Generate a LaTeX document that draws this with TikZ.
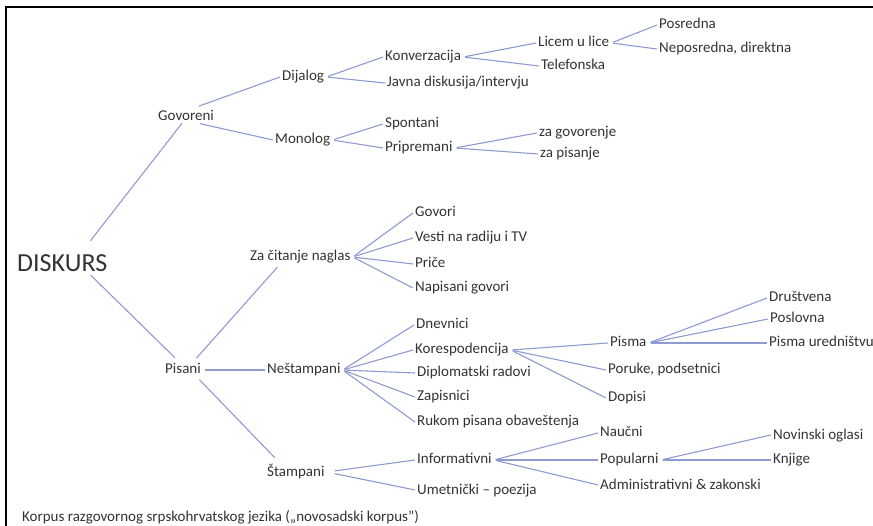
\documentclass[tikz,border=0pt]{standalone}
\usepackage{fontspec}
\setmainfont{Carlito}
\definecolor{txt}{HTML}{333333}
\definecolor{ln}{HTML}{8E9AD0}
\begin{document}
\begin{tikzpicture}[x=1pt,y=-1pt,
  lab/.style={anchor=west, inner xsep=2pt, inner ysep=0pt, text height=11pt, text depth=3pt, font=\fontsize{15}{18}\selectfont, text=txt},
  big/.style={anchor=west, inner xsep=2pt, inner ysep=0pt, text height=17pt, text depth=0pt, font=\fontsize{26}{30}\selectfont, text=txt},
  conn/.style={draw=ln, line width=1.1pt, shorten <=2pt},
]
\useasboundingbox (0,0) rectangle (873,526);
\draw[line width=2pt] (6,526) -- (6,7) -- (873,7);

% nodes
\node[big] (disk) at (15,263) {DISKURS};
\node[lab] (gov) at (156,117) {Govoreni};
\node[lab] (pis) at (163,370) {Pisani};
\node[lab] (dij) at (280,77) {Dijalog};
\node[lab] (mon) at (273,140) {Monolog};
\node[lab] (konv) at (383,57) {Konverzacija};
\node[lab] (javna) at (385,83) {Javna diskusija/intervju};
\node[lab] (spon) at (383,124) {Spontani};
\node[lab] (prip) at (383,148) {Pripremani};
\node[lab] (licem) at (536,43) {Licem u lice};
\node[lab] (tel) at (539,66) {Telefonska};
\node[lab] (posr) at (657,25) {Posredna};
\node[lab] (nepo) at (657,49) {Neposredna, direktna};
\node[lab] (zagov) at (537,133) {za govorenje};
\node[lab] (zapis) at (538,154) {za pisanje};
\node[lab] (zacit) at (248,257) {Za čitanje naglas};
\node[lab] (nest) at (265,370) {Neštampani};
\node[lab] (stam) at (265,472) {Štampani};
\node[lab] (govori) at (413,213) {Govori};
\node[lab] (vesti) at (413,238) {Vesti na radiju i TV};
\node[lab] (price) at (413,264) {Priče};
\node[lab] (napis) at (413,288) {Napisani govori};
\node[lab] (dnev) at (414,325) {Dnevnici};
\node[lab] (kores) at (413,350) {Korespodencija};
\node[lab] (diplo) at (415,373) {Diplomatski radovi};
\node[lab] (zapisn) at (415,397) {Zapisnici};
\node[lab] (rukom) at (415,422) {Rukom pisana obaveštenja};
\node[lab] (pisma) at (608,343) {Pisma};
\node[lab] (poruke) at (606,370) {Poruke, podsetnici};
\node[lab] (dopisi) at (606,398) {Dopisi};
\node[lab] (drus) at (767,298) {Društvena};
\node[lab] (posl) at (768,319) {Poslovna};
\node[lab] (pismau) at (767,343) {Pisma uredništvu};
\node[lab] (info) at (415,460) {Informativni};
\node[lab] (umet) at (415,490) {Umetnički – poezija};
\node[lab] (nauc) at (598,433) {Naučni};
\node[lab] (popu) at (598,460) {Popularni};
\node[lab] (admin) at (598,485) {Administrativni \& zakonski};
\node[lab] (novin) at (771,435) {Novinski oglasi};
\node[lab] (knjige) at (771,460) {Knjige};
\node[lab] (cap) at (20,517) {Korpus razgovornog srpskohrvatskog jezika („novosadski korpus”)};

% connectors
\draw[conn] ([shift={(27,-12)}]disk.north) -- ([shift={(-4,-1)}]gov.south);
\draw[conn] ([shift={(27,2)}]disk.south) -- ([shift={(-8,-5)}]pis.north);
\draw[conn] ([shift={(11,-3)}]gov.north) -- (dij.west);
\draw[conn] ([shift={(12,-1)}]gov.south) -- (mon.west);
\draw[conn] (dij.east) -- (konv.west);
\draw[conn] (dij.east) -- (javna.west);
\draw[conn] (mon.east) -- (spon.west);
\draw[conn] (mon.east) -- (prip.west);
\draw[conn] (konv.east) -- (licem.west);
\draw[conn] (konv.east) -- (tel.west);
\draw[conn] (licem.east) -- (posr.west);
\draw[conn] (licem.east) -- (nepo.west);
\draw[conn] (prip.east) -- (zagov.west);
\draw[conn] (prip.east) -- (zapis.west);
\draw[conn] ([shift={(12,-3)}]pis.north) -- ([shift={(-23,3)}]zacit.south);
\draw[conn] (pis.east) -- (nest.west);
\draw[conn] ([shift={(15,1)}]pis.south) -- ([shift={(-21,-7)}]stam.north);
\draw[conn] (zacit.east) -- (govori.west);
\draw[conn] (zacit.east) -- (vesti.west);
\draw[conn] (zacit.east) -- (price.west);
\draw[conn] (zacit.east) -- (napis.west);
\draw[conn] (nest.east) -- (dnev.west);
\draw[conn] (nest.east) -- (kores.west);
\draw[conn] (nest.east) -- (diplo.west);
\draw[conn] (nest.east) -- (zapisn.west);
\draw[conn] (nest.east) -- (rukom.west);
\draw[conn] (kores.east) -- (pisma.west);
\draw[conn] (kores.east) -- (poruke.west);
\draw[conn] (kores.east) -- (dopisi.west);
\draw[conn] (pisma.east) -- (drus.west);
\draw[conn] (pisma.east) -- (posl.west);
\draw[conn] (pisma.east) -- (pismau.west);
\draw[conn, shorten <=8pt] (stam.east) -- (info.west);
\draw[conn, shorten <=8pt] (stam.east) -- (umet.west);
\draw[conn] (info.east) -- (nauc.west);
\draw[conn] (info.east) -- (popu.west);
\draw[conn] (info.east) -- (admin.west);
\draw[conn] (popu.east) -- (novin.west);
\draw[conn] (popu.east) -- (knjige.west);
\end{tikzpicture}
\end{document}
